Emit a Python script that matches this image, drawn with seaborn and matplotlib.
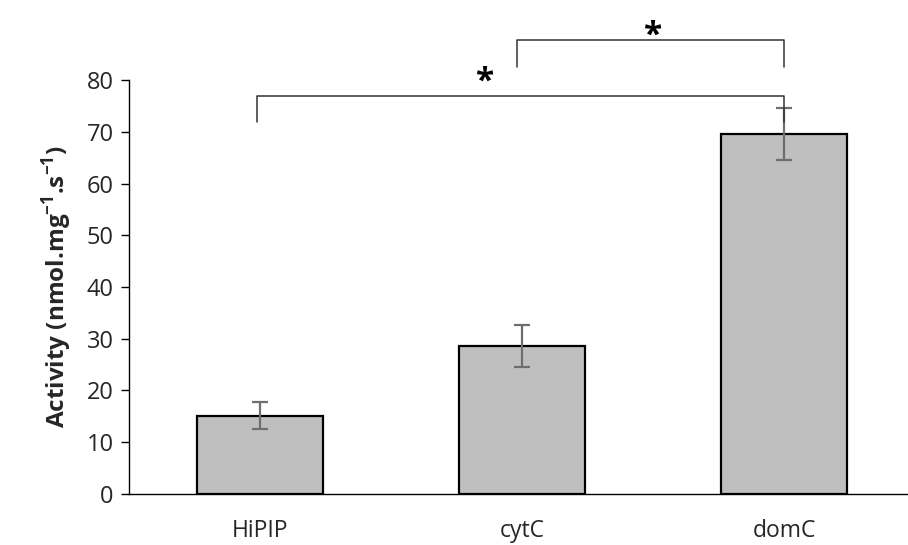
import numpy as np
import pandas as pd
import seaborn as sns
import matplotlib.pyplot as plt

# data
groups = ['HiPIP', 'cytC', 'domC']
activity = [15.1, 28.6, 69.6]
err = [2.6, 4.1, 5.1]

sns.set_theme(style='white')
plt.rcParams['font.family'] = ['Open Sans', 'DejaVu Sans']
plt.rcParams['mathtext.fontset'] = 'custom'
plt.rcParams['mathtext.rm'] = 'Open Sans'
plt.rcParams['mathtext.bf'] = 'Open Sans:bold'

df = pd.DataFrame({'group': groups, 'activity': activity})

fig = plt.figure(figsize=(9.08, 5.45), dpi=100)
ax = fig.add_axes([0.142, 0.094, 0.857, 0.759])

sns.barplot(data=df, x='group', y='activity', color='#bfbfbf', edgecolor='black',
            linewidth=1.6, width=0.48, errorbar=None, saturation=1, ax=ax)
ax.errorbar(np.arange(len(groups)), activity, yerr=err, fmt='none',
            ecolor='#6e6e6e', elinewidth=1.6, capsize=6, capthick=1.6)

ax.set_xlim(-0.5, 2.47)
ax.set_ylim(0, 80)
ax.set_yticks(range(0, 81, 10))
ax.set_xlabel('')
ax.set_ylabel(r'Activity (nmol.mg$^{\mathbf{-1}}$.s$^{\mathbf{-1}}$)', fontsize=17.5,
              fontweight='bold', color='#262626', labelpad=9)
ax.tick_params(axis='y', labelsize=17, labelcolor='#262626', left=True,
               length=6, width=1, color='black', direction='out', pad=5)
ax.tick_params(axis='x', labelsize=16.5, labelcolor='#262626', bottom=False, pad=12)
sns.despine(ax=ax)
for s in ['left', 'bottom']:
    ax.spines[s].set_color('black')
    ax.spines[s].set_linewidth(1)

# significance brackets
def bracket(x1, x2, y, drop, star_x, star_y):
    ax.plot([x1, x1, x2, x2], [y - drop, y, y, y - drop], color='#333333',
            lw=1.1, clip_on=False)
    ax.text(star_x, star_y, '*', fontsize=24, fontweight='bold', ha='center',
            va='center', color='black', clip_on=False)

bracket(-0.01, 2.0, 76.9, 5.0, 0.86, 79.5)
bracket(0.98, 2.0, 87.7, 5.2, 1.50, 88.5)

fig.savefig('out.png', dpi=100)
